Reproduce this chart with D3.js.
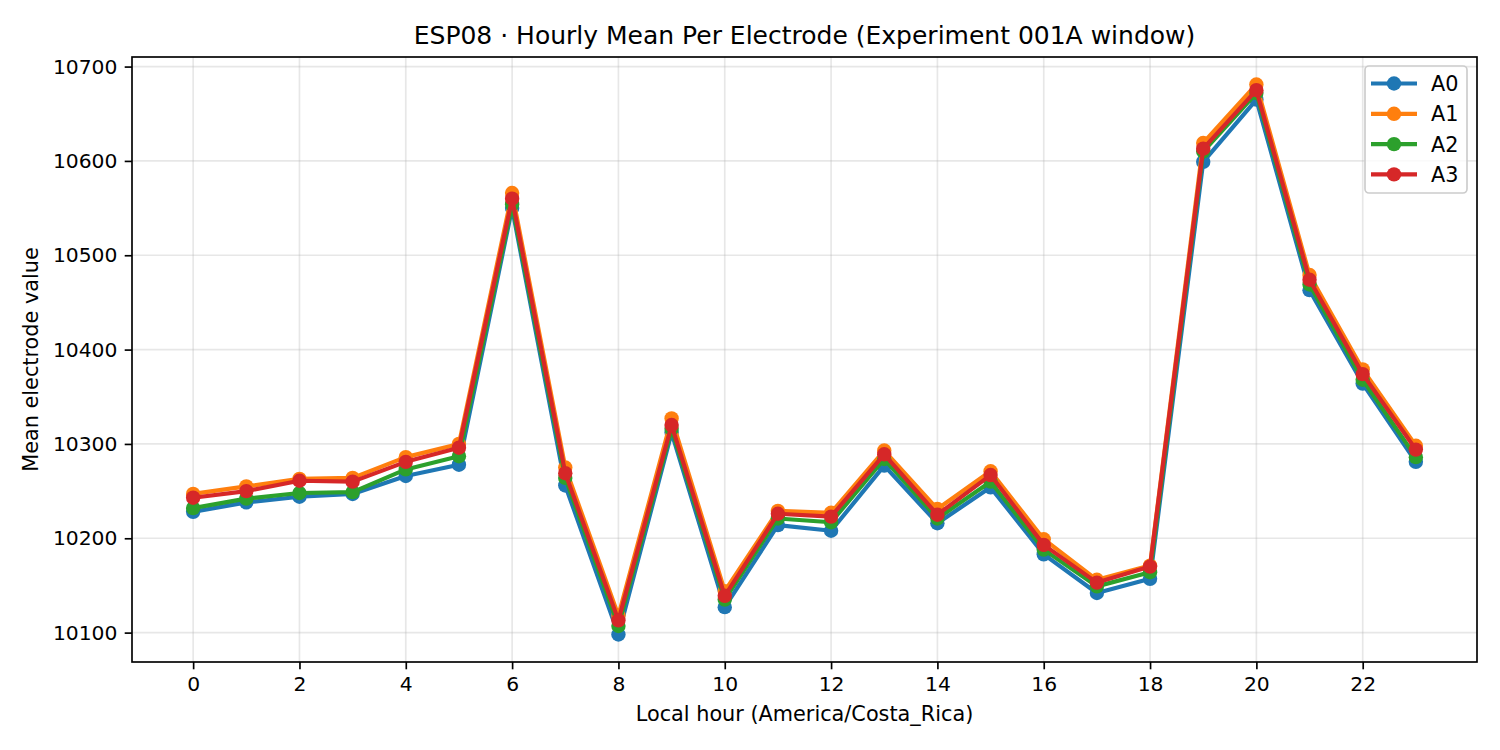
<!DOCTYPE html>
<html>
<head>
<meta charset="utf-8">
<script src="https://cdn.jsdelivr.net/npm/d3@7"></script>
<style>
  body { margin: 0; background: #fff; }
  svg { font-family: "DejaVu Sans", sans-serif; }
</style>
</head>
<body>
<div id="chart"></div>
<script>
// hourly means, one array per electrode
const hours = d3.range(0, 24);
const seriesNames = ["A0", "A1", "A2", "A3"];
const seriesColors = ["#1f77b4", "#ff7f0e", "#2ca02c", "#d62728"];

const a0 = [10228, 10238, 10244, 10247, 10266, 10278, 10550, 10256, 10098, 10312, 10127, 10214,
            10208, 10277, 10216, 10254, 10183, 10142, 10157, 10599, 10665, 10463, 10364, 10281];
const a1 = [10247, 10255, 10263, 10264, 10286, 10300, 10566, 10275, 10118, 10327, 10144, 10229,
            10227, 10293, 10231, 10271, 10199, 10156, 10171, 10619, 10681, 10479, 10379, 10298];
const a2 = [10232, 10242, 10248, 10249, 10273, 10287, 10554, 10264, 10107, 10316, 10135, 10221,
            10217, 10284, 10221, 10260, 10188, 10149, 10164, 10610, 10672, 10469, 10368, 10286];
const a3 = [10243, 10250, 10261, 10260, 10281, 10296, 10560, 10269, 10113, 10320, 10139, 10226,
            10223, 10289, 10225, 10267, 10193, 10153, 10170, 10613, 10675, 10474, 10374, 10294];

const xTicks = [0, 2, 4, 6, 8, 10, 12, 14, 16, 18, 20, 22];
const yTicks = [10100, 10200, 10300, 10400, 10500, 10600, 10700];

const title = "ESP08 · Hourly Mean Per Electrode (Experiment 001A window)";
const xLabel = "Local hour (America/Costa_Rica)";
const yLabel = "Mean electrode value";

const config = {
  width: 1500,
  height: 750,
  margin: { top: 57, right: 23, bottom: 88, left: 132 },
};

const series = seriesNames.map((name, i) => ({
  name: name,
  color: seriesColors[i],
  values: [a0, a1, a2, a3][i].map((v, h) => ({ hour: hours[h], value: v })),
}));

const width = config.width - config.margin.left - config.margin.right;
const height = config.height - config.margin.top - config.margin.bottom;

const svg = d3
  .select("#chart")
  .append("svg")
  .attr("width", config.width)
  .attr("height", config.height);

const g = svg
  .append("g")
  .attr("transform", "translate(" + config.margin.left + "," + config.margin.top + ")");

// matplotlib style 5% padding on both axes
const xExt = d3.extent(hours);
const xPad = (xExt[1] - xExt[0]) * 0.05;
const x = d3.scaleLinear().domain([xExt[0] - xPad, xExt[1] + xPad]).range([0, width]);

const allVals = [].concat(a0, a1, a2, a3);
const yExt = d3.extent(allVals);
const yPad = (yExt[1] - yExt[0]) * 0.05;
const y = d3.scaleLinear().domain([yExt[0] - yPad, yExt[1] + yPad]).range([height, 0]);

// grid
g.append("g")
  .selectAll("line")
  .data(xTicks)
  .join("line")
  .attr("x1", (d) => x(d))
  .attr("x2", (d) => x(d))
  .attr("y1", 0)
  .attr("y2", height)
  .attr("stroke", "#b0b0b0")
  .attr("stroke-opacity", 0.3)
  .attr("stroke-width", 1.67);

g.append("g")
  .selectAll("line")
  .data(yTicks)
  .join("line")
  .attr("x1", 0)
  .attr("x2", width)
  .attr("y1", (d) => y(d))
  .attr("y2", (d) => y(d))
  .attr("stroke", "#b0b0b0")
  .attr("stroke-opacity", 0.3)
  .attr("stroke-width", 1.67);

// axes
const xAxis = g
  .append("g")
  .attr("transform", "translate(0," + height + ")")
  .call(d3.axisBottom(x).tickValues(xTicks).tickSize(7.3).tickPadding(7.3).tickSizeOuter(0));

const yAxis = g
  .append("g")
  .call(
    d3.axisLeft(y)
      .tickValues(yTicks)
      .tickFormat(d3.format("d"))
      .tickSize(7.3)
      .tickPadding(7.3)
      .tickSizeOuter(0)
  );

[xAxis, yAxis].forEach((ax) => {
  ax.select(".domain").remove();
  ax.selectAll("line").attr("stroke", "#000").attr("stroke-width", 1.67);
  ax.selectAll("text")
    .attr("font-family", "DejaVu Sans")
    .attr("font-size", 20.3)
    .attr("fill", "#000");
});

// series: line then markers, A3 ends up on top
const line = d3
  .line()
  .x((d) => x(d.hour))
  .y((d) => y(d.value));

series.forEach((s) => {
  const sg = g.append("g");
  sg.append("path")
    .datum(s.values)
    .attr("fill", "none")
    .attr("stroke", s.color)
    .attr("stroke-width", 4.17)
    .attr("stroke-linejoin", "round")
    .attr("stroke-linecap", "square")
    .attr("d", line);
  sg.selectAll("circle")
    .data(s.values)
    .join("circle")
    .attr("cx", (d) => x(d.hour))
    .attr("cy", (d) => y(d.value))
    .attr("r", 7.2)
    .attr("fill", s.color);
});

// frame
g.append("rect")
  .attr("width", width)
  .attr("height", height)
  .attr("fill", "none")
  .attr("stroke", "#000")
  .attr("stroke-width", 1.67);

// legend
const legend = g.append("g").attr("transform", "translate(" + (width - 112) + ",9)");
legend
  .append("rect")
  .attr("width", 102)
  .attr("height", 127)
  .attr("rx", 4)
  .attr("fill", "#fff")
  .attr("fill-opacity", 0.8)
  .attr("stroke", "#cccccc")
  .attr("stroke-width", 1.67);

const rows = legend
  .selectAll("g.row")
  .data(series)
  .join("g")
  .attr("class", "row")
  .attr("transform", (d, i) => "translate(0," + (17.5 + i * 30.3) + ")");

rows.append("line")
  .attr("x1", 6)
  .attr("x2", 52)
  .attr("stroke", (d) => d.color)
  .attr("stroke-width", 4.17);
rows.append("circle")
  .attr("cx", 29)
  .attr("r", 7.2)
  .attr("fill", (d) => d.color);
rows.append("text")
  .attr("x", 66)
  .attr("dy", "0.36em")
  .attr("font-size", 20.8)
  .text((d) => d.name);

// titles
svg.append("text")
  .attr("x", config.margin.left + width / 2)
  .attr("y", 43.5)
  .attr("text-anchor", "middle")
  .attr("font-size", 25)
  .text(title);

svg.append("text")
  .attr("x", config.margin.left + width / 2)
  .attr("y", 721)
  .attr("text-anchor", "middle")
  .attr("font-size", 20.8)
  .text(xLabel);

svg.append("text")
  .attr("transform", "translate(38," + (config.margin.top + height / 2) + ") rotate(-90)")
  .attr("text-anchor", "middle")
  .attr("font-size", 20.8)
  .text(yLabel);
</script>
</body>
</html>
